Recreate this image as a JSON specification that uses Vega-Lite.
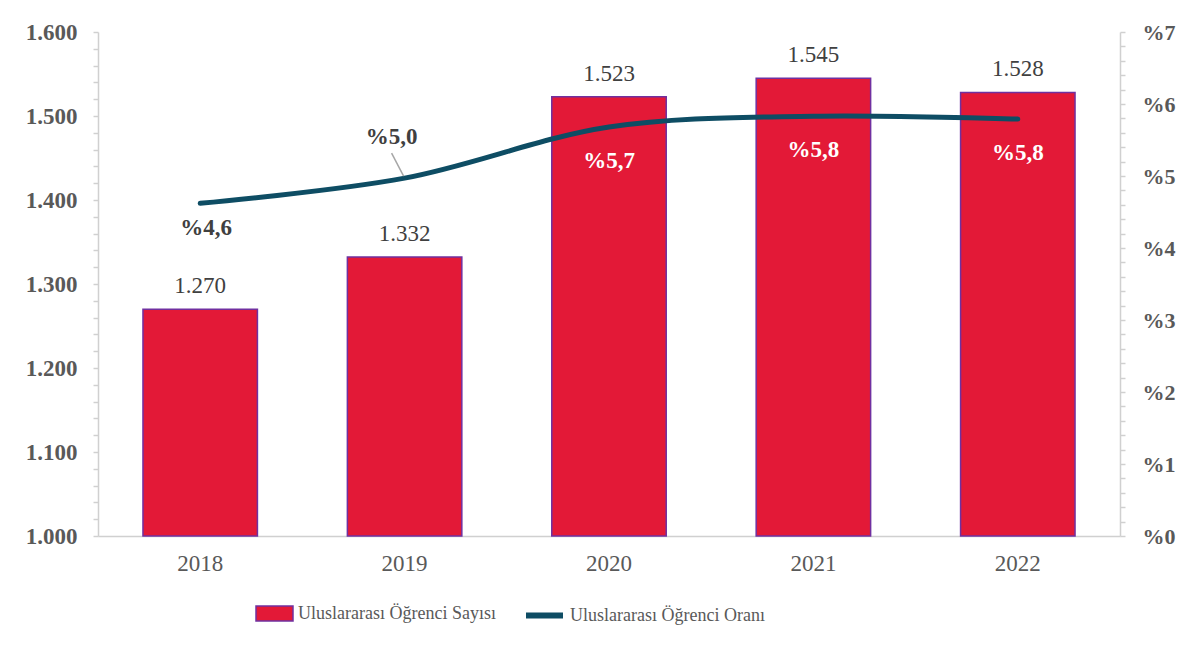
{
  "$schema": "https://vega.github.io/schema/vega-lite/v6.json",
  "width": 1022,
  "height": 504,
  "autosize": "none",
  "padding": {"left": 98, "top": 32, "right": 67, "bottom": 116},
  "background": "#ffffff",
  "config": {
    "locale": {"number": {"decimal": ",", "thousands": ".", "grouping": [3], "currency": ["", " TL"]}},
    "font": "Liberation Serif",
    "view": {"stroke": null},
    "axis": {"domainColor": "#D0D0D0", "tickColor": "#D0D0D0", "domainWidth": 1.5, "tickWidth": 1.5, "grid": false, "labelFont": "Liberation Serif", "labelColor": "#595959", "title": null},
    "legend": {"labelFont": "Liberation Serif", "labelFontSize": 18, "labelColor": "#595959", "labelLimit": 400, "padding": 0, "labelOffset": 4, "title": null}
  },
  "data": {
    "values": [
      {"year": "2018", "count": 1270, "rate": 4.62},
      {"year": "2019", "count": 1332, "rate": 4.97},
      {"year": "2020", "count": 1523, "rate": 5.68},
      {"year": "2021", "count": 1545, "rate": 5.83},
      {"year": "2022", "count": 1528, "rate": 5.79}
    ]
  },
  "encoding": {
    "x": {
      "field": "year", "type": "nominal",
      "scale": {"paddingInner": 0.44, "paddingOuter": 0.22},
      "axis": {"labelAngle": 0, "ticks": false, "labelPadding": 16, "labelFontSize": 23, "labelFontWeight": "normal"}
    }
  },
  "layer": [
    {
      "encoding": {
        "y": {
          "field": "count", "type": "quantitative",
          "scale": {"domain": [1000, 1600], "zero": false, "nice": false},
          "axis": {
            "orient": "left",
            "values": [1000,1020,1040,1060,1080,1100,1120,1140,1160,1180,1200,1220,1240,1260,1280,1300,1320,1340,1360,1380,1400,1420,1440,1460,1480,1500,1520,1540,1560,1580,1600],
            "labelExpr": "datum.value % 100 === 0 ? format(datum.value, ',') : ''",
            "labelOverlap": false,
            "labelFontSize": 23, "labelFontWeight": "bold",
            "tickSize": 5, "labelPadding": 16
          }
        }
      },
      "layer": [
        {
          "mark": {"type": "bar", "stroke": "#7030A0", "strokeWidth": 1.5},
          "encoding": {
            "y2": {"datum": 1000},
            "fill": {
              "datum": "Uluslararası Öğrenci Sayısı",
              "type": "nominal",
              "scale": {"range": ["#E31937"]},
              "legend": {
                "orient": "none",
                "legendX": 157,
                "legendY": 562,
                "symbolType": "M-1,-0.4H1V0.4H-1Z",
                "symbolSize": 1369,
                "symbolStrokeColor": "#7030A0",
                "symbolStrokeWidth": 1.5,
                "symbolOpacity": 1
              }
            }
          }
        },
        {
          "mark": {"type": "text", "baseline": "alphabetic", "dy": -16, "fontSize": 23, "color": "#404040", "font": "Liberation Serif"},
          "encoding": {
            "text": {"field": "count", "type": "quantitative", "format": ","}
          }
        }
      ]
    },
    {
      "encoding": {
        "y": {
          "field": "rate", "type": "quantitative",
          "scale": {"domain": [0, 7], "nice": false},
          "axis": {
            "orient": "right",
            "values": [0,0.2,0.4,0.6,0.8,1,1.2,1.4,1.6,1.8,2,2.2,2.4,2.6,2.8,3,3.2,3.4,3.6,3.8,4,4.2,4.4,4.6,4.8,5,5.2,5.4,5.6,5.8,6,6.2,6.4,6.6,6.8,7],
            "labelExpr": "abs(datum.value - round(datum.value)) < 0.001 ? '%' + round(datum.value) : ''",
            "labelOverlap": false,
            "labelFontSize": 22, "labelFontWeight": "bold",
            "tickSize": 5, "labelPadding": 17
          }
        }
      },
      "layer": [
        {
          "mark": {"type": "line", "strokeWidth": 5, "interpolate": "catmull-rom", "strokeCap": "round"},
          "encoding": {
            "stroke": {
              "datum": "Uluslararası Öğrenci Oranı",
              "type": "nominal",
              "scale": {"range": ["#0E4D64"]},
              "legend": {
                "orient": "none",
                "legendX": 425,
                "legendY": 562,
                "symbolType": "stroke",
                "symbolSize": 1369,
                "symbolStrokeWidth": 6,
                "symbolOpacity": 1
              }
            }
          }
        },
        {
          "transform": [{"filter": "datum.year === '2018'"}],
          "mark": {"type": "text", "baseline": "middle", "dx": 6, "dy": 25, "fontSize": 23, "fontWeight": "bold", "color": "#404040", "font": "Liberation Serif", "text": {"expr": "'%' + format(datum.rate, '.1f')"}}
        },
        {
          "transform": [{"filter": "datum.year === '2019'"}],
          "mark": {"type": "text", "baseline": "middle", "dx": -13, "dy": -41, "fontSize": 23, "fontWeight": "bold", "color": "#404040", "font": "Liberation Serif", "text": {"expr": "'%' + format(datum.rate, '.1f')"}}
        },
        {
          "transform": [{"filter": "datum.year === '2019'"}],
          "mark": {"type": "rule", "color": "#A6A6A6", "strokeWidth": 1.5, "xOffset": -13, "yOffset": -25, "x2Offset": -1, "y2Offset": -2},
          "encoding": {
            "x2": {"field": "year"},
            "y2": {"field": "rate"}
          }
        },
        {
          "transform": [{"filter": "datum.year >= '2020'"}],
          "mark": {"type": "text", "baseline": "middle", "dy": 34, "fontSize": 23, "fontWeight": "bold", "color": "#FFFFFF", "font": "Liberation Serif", "text": {"expr": "'%' + format(datum.rate, '.1f')"}}
        }
      ]
    }
  ],
  "resolve": {"scale": {"y": "independent", "fill": "independent", "stroke": "independent"}}
}
